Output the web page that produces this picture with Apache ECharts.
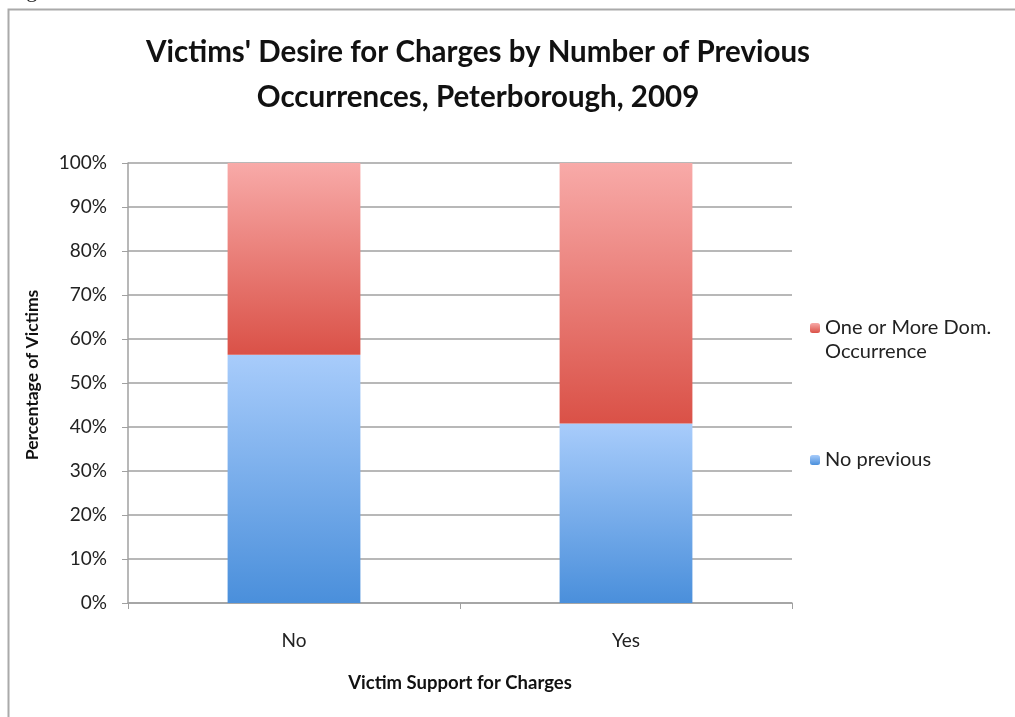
<!DOCTYPE html>
<html><head><meta charset="utf-8">
<script src="https://cdn.jsdelivr.net/npm/echarts@6/dist/echarts.min.js"></script>
<style>html,body{margin:0;padding:0;background:#fff}#c{width:1015px;height:717px}</style>
</head><body><div id="c"></div>
<script>
const categories = ['No', 'Yes'];
const noPrevious = [56.4, 40.8];
const oneOrMore = [43.6, 59.2];
const yTicks = [0, 10, 20, 30, 40, 50, 60, 70, 80, 90, 100];
const legendNames = ['One or More Dom. Occurrence', 'No previous'];

const font = 'Lato, "Open Sans", sans-serif';
const chart = echarts.init(document.getElementById('c'));
const blueGrad = new echarts.graphic.LinearGradient(0, 0, 0, 1, [{offset: 0, color: '#a8ccfb'}, {offset: 1, color: '#4a8fdb'}]);
const redGrad = new echarts.graphic.LinearGradient(0, 0, 0, 1, [{offset: 0, color: '#f8aaa8'}, {offset: 1, color: '#da5147'}]);
chart.setOption({
  animation: false,
  backgroundColor: '#fff',
  graphic: [
    {type: 'rect', shape: {x: 8.5, y: 9.5, width: 1020, height: 720}, style: {fill: 'none', stroke: '#aaaaaa', lineWidth: 2}},
    {type: 'text', left: 8, top: -20, style: {text: 'Figure', font: '22px "Liberation Serif", serif', fill: '#222'}},
    {type: 'text', left: 825, top: 342, style: {text: 'Occurrence', font: '20px Lato, "Open Sans", sans-serif', fill: '#222'}}
  ],
  title: {
    text: "Victims' Desire for Charges by Number of Previous\nOccurrences, Peterborough, 2009",
    left: 473, top: 25, textAlign: 'center',
    textStyle: {fontFamily: font, fontWeight: 'bold', fontSize: 29.5, lineHeight: 45, color: '#111'}
  },
  legend: [
    {data: [{name: legendNames[0]}], orient: 'vertical', left: 805, top: 308,
     itemWidth: 10, itemHeight: 10, formatter: () => 'One or More Dom.',
     textStyle: {fontFamily: font, fontSize: 20, color: '#222', lineHeight: 20, padding: [10, 0, 0, 0]}},
    {data: [{name: legendNames[1]}], orient: 'vertical', left: 805, top: 440,
     itemWidth: 10, itemHeight: 10,
     textStyle: {fontFamily: font, fontSize: 20, color: '#222', lineHeight: 20, padding: [10, 0, 0, 0]}}
  ],
  grid: {left: 128, right: 223, top: 163, bottom: 114, containLabel: false},
  xAxis: {
    type: 'category', data: categories,
    name: 'Victim Support for Charges', nameLocation: 'middle', nameGap: 71,
    nameTextStyle: {fontFamily: font, fontWeight: 'bold', fontSize: 18.5, color: '#111'},
    axisLine: {lineStyle: {color: '#a0a0a0', width: 1.5}},
    axisTick: {show: true, length: 6, lineStyle: {color: '#a0a0a0'}},
    axisLabel: {fontFamily: font, fontSize: 19, color: '#222', margin: 28}
  },
  yAxis: {
    type: 'value', min: 0, max: 100, interval: 10,
    name: 'Percentage of Victims', nameLocation: 'middle', nameGap: 87, nameRotate: 90,
    nameTextStyle: {fontFamily: font, fontWeight: 'bold', fontSize: 17.5, color: '#111', padding: [0, 0, 0, 16]},
    axisLine: {show: true, lineStyle: {color: '#a0a0a0', width: 1.5}},
    axisTick: {show: true, length: 6, lineStyle: {color: '#a0a0a0'}},
    splitLine: {lineStyle: {color: '#a0a0a0', width: 1.5}},
    axisLabel: {fontFamily: font, fontSize: 19, color: '#222', margin: 21,
      formatter: v => yTicks.includes(v) ? v + '%' : ''}
  },
  series: [
    {name: legendNames[1], type: 'bar', stack: 't', data: noPrevious, barWidth: '40%',
     itemStyle: {color: blueGrad}},
    {name: legendNames[0], type: 'bar', stack: 't', data: oneOrMore, barWidth: '40%',
     itemStyle: {color: redGrad}}
  ]
});
</script></body></html>
